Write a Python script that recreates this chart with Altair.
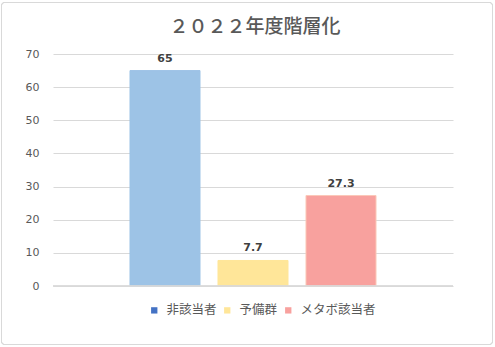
import altair as alt
import pandas as pd

series = ["非該当者", "予備群", "メタボ該当者"]
values = [65, 7.7, 27.3]
labels = ["65", "7.7", "27.3"]
legend_colors = ["#4472C4", "#FFE699", "#F8A19E"]
bar_colors = ["#9DC3E6", "#FFE699", "#F8A19E"]
bar_strokes = ["#9DC3E6", "#FFE699", "#FBC8B8"]
y_ticks = [0, 10, 20, 30, 40, 50, 60, 70]
title_text = "２０２２年度階層化"

df = pd.DataFrame({"series": series, "value": values, "label": labels})

FONT = "Noto Sans CJK JP"

x_enc = alt.X("series:N", sort=series, axis=None,
              scale=alt.Scale(paddingInner=0.2045, paddingOuter=0.875))
y_enc = alt.Y("value:Q", scale=alt.Scale(domain=[0, 70], nice=False),
              axis=alt.Axis(values=y_ticks, title=None, domain=False, ticks=False,
                            labelColor="#595959", labelFontSize=11,
                            labelFont="DejaVu Sans", labelOverlap=False,
                            labelPadding=14, gridColor="#D9D9D9", gridWidth=1))

bars = alt.Chart(df).mark_bar(strokeWidth=1).encode(
    x=x_enc,
    y=y_enc,
    fill=alt.Fill("series:N", sort=series,
                  scale=alt.Scale(domain=series, range=bar_colors), legend=None),
    stroke=alt.Stroke("series:N", sort=series,
                      scale=alt.Scale(domain=series, range=bar_strokes), legend=None),
)

legend_layer = alt.Chart(df).mark_square(size=0, opacity=0).encode(
    x=x_enc,
    y=y_enc,
    color=alt.Color("series:N", sort=series,
                    scale=alt.Scale(domain=series, range=legend_colors),
                    legend=alt.Legend(title=None, orient="none", direction="horizontal",
                                      legendX=95, legendY=250, symbolType="square",
                                      symbolSize=40, symbolStrokeWidth=0, symbolOpacity=1,
                                      labelFont=FONT, labelFontSize=12.5, labelColor="#595959",
                                      columnPadding=4, labelOffset=6, padding=0)),
)

text = alt.Chart(df).mark_text(dy=-12, fontWeight="bold", fontSize=11,
                               color="#404040", font="DejaVu Sans").encode(
    x=x_enc,
    y=y_enc,
    text="label:N",
)

baseline = alt.Chart(df).mark_rule(color="#D9D9D9").encode(
    x=alt.value(0), x2=alt.value(400), y=alt.value(232)
)

frame = alt.Chart(df).mark_rect(fill=None, stroke="#D9D9D9", strokeWidth=1,
                                cornerRadius=3).encode(
    x=alt.value(-51.5), x2=alt.value(439.5), y=alt.value(-51.5), y2=alt.value(290.5)
)

title = alt.Chart(pd.DataFrame({"t": [title_text]})).mark_text(
    font=FONT, fontSize=19, fontWeight=500, color="#595959",
    align="center", baseline="middle"
).encode(x=alt.value(202), y=alt.value(-27), text="t:N")

chart = alt.layer(frame, bars, baseline, legend_layer, text, title).properties(
    width=400, height=232,
    autosize=alt.AutoSizeParams(type="none"),
    padding={"left": 53, "top": 54, "right": 42, "bottom": 61},
).resolve_scale(
    fill="independent", stroke="independent"
).configure(background="white", view={"stroke": None})

chart.save("out.html", embed_options={"renderer": "svg", "actions": False})
